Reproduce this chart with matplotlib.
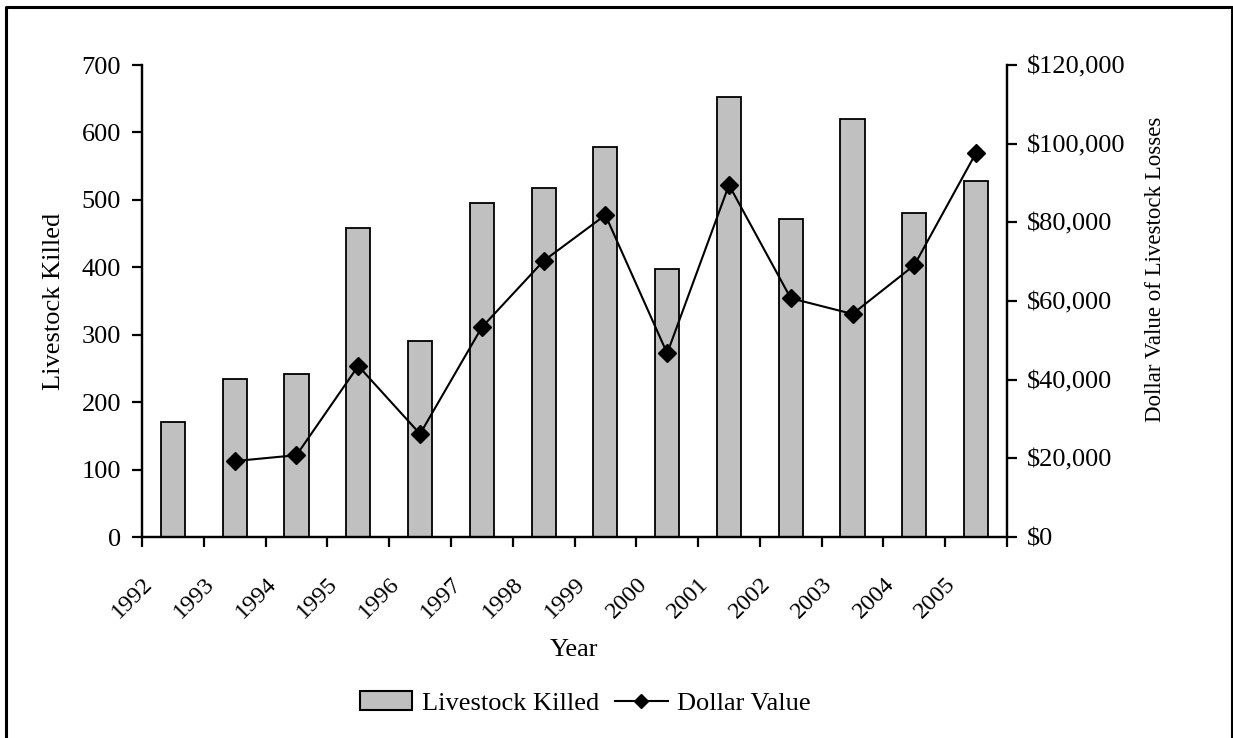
import matplotlib
matplotlib.use("Agg")
from matplotlib import pyplot as plt
from matplotlib.lines import Line2D
from matplotlib.patches import Patch
from matplotlib.ticker import FuncFormatter, FixedLocator, FixedFormatter, NullFormatter
import numpy as np

years = ["1992", "1993", "1994", "1995", "1996", "1997", "1998",
         "1999", "2000", "2001", "2002", "2003", "2004", "2005"]
livestock_killed = [171, 234, 242, 459, 290, 495, 518, 578, 397, 652, 471, 620, 480, 528]
dollar_value = [np.nan, 19300, 20800, 43500, 26200, 53300, 70200,
                81850, 46700, 89500, 60700, 56700, 69100, 97700]

plt.rcParams['font.family'] = ['Liberation Serif', 'DejaVu Serif']
plt.rcParams['font.size'] = 19

fig = plt.figure(figsize=(12.33, 7.38), dpi=100)
ax = fig.add_axes([142 / 1233, 1 - 537 / 738, 865 / 1233, 472 / 738])
ax2 = ax.twinx()

x = np.arange(len(years))
ax.bar(x, livestock_killed, width=0.39, color='#C0C0C0', edgecolor='black', linewidth=1.3,
       zorder=2)
ax2.plot(x, dollar_value, color='black', linewidth=1.5, marker='D', markersize=9, zorder=3)

ax.set_xlim(-0.5, len(years) - 0.5)
ax.set_ylim(0, 700)
ax.set_yticks(range(0, 701, 100))
ax2.set_ylim(0, 120000)
ax2.set_yticks(range(0, 120001, 20000))
ax2.yaxis.set_major_formatter(FuncFormatter(lambda v, p: f"${v:,.0f}"))

# tick marks on category boundaries; year labels sit just right of each mark (Excel style)
ax.xaxis.set_major_locator(FixedLocator(np.arange(len(years) + 1) - 0.5))
ax.xaxis.set_major_formatter(NullFormatter())
ax.xaxis.set_minor_locator(FixedLocator(x - 0.26))
ax.xaxis.set_minor_formatter(FixedFormatter(years))
ax.tick_params(axis='x', which='minor', length=0, pad=26, labelsize=17.5)
plt.setp(ax.get_xticklabels(minor=True), rotation=45, ha='right', va='top')

for a in (ax, ax2):
    for s in a.spines.values():
        s.set_linewidth(1.6)
    a.tick_params(which='major', direction='out', length=7, width=1.6)
ax.spines['top'].set_visible(False)
ax2.spines['top'].set_visible(False)
ax.tick_params(axis='y', pad=8)
ax2.tick_params(axis='y', pad=7)

ax.set_xlabel("Year", va='top')
ax.xaxis.set_label_coords(0.5, -(639 - 537) / 472)
ax.set_ylabel("Livestock Killed", labelpad=12)
ax2.set_ylabel("Dollar Value of Livestock Losses", fontsize=16.5)
ax2.yaxis.set_label_coords(1.159, 0.568)

handles = [Patch(facecolor='#C0C0C0', edgecolor='black', linewidth=1.5),
           Line2D([0], [0], color='black', linewidth=1.5, marker='D', markersize=7)]
fig.legend(handles, ["Livestock Killed", "Dollar Value"], loc='center',
           bbox_to_anchor=(585 / 1233, 1 - 703 / 738), ncol=2, frameon=False,
           handlelength=2.0, handletextpad=0.35, columnspacing=0.6)

# outer chart border (no bottom edge visible)
W, H = 1233, 738
border_x = [5.5, 5.5, 1231.5, 1231.5]
border_y = [738, 6.5, 6.5, 738]
fig.add_artist(Line2D([v / W for v in border_x], [1 - v / H for v in border_y],
                      transform=fig.transFigure, color='black', linewidth=2.2))

fig.savefig("out.png", dpi=100)
